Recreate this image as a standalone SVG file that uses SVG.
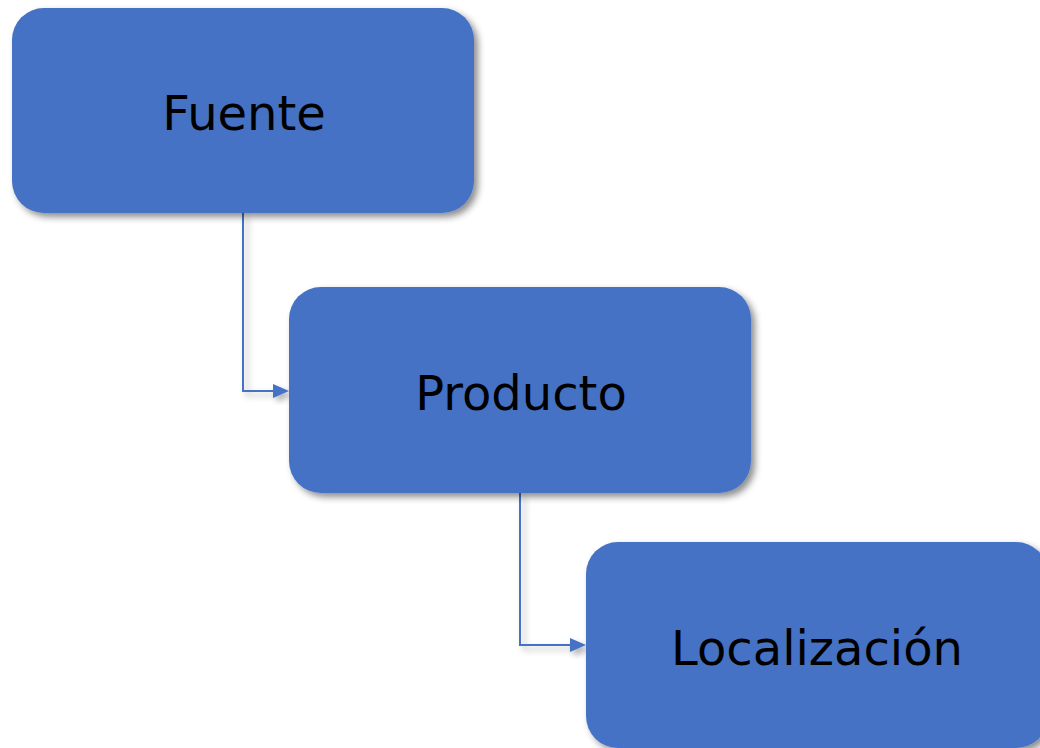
<svg xmlns="http://www.w3.org/2000/svg" width="1040" height="748" viewBox="0 0 1040 748">
<style>
.box{fill:#4472C4;filter:url(#sh)}
.lbl{font-family:"DejaVu Sans",Verdana,sans-serif;font-size:48px;fill:#000;text-anchor:middle}
.con{fill:none;stroke:#4472C4;stroke-width:2;filter:url(#sh2)}
.head{fill:#4472C4;filter:url(#sh2)}
</style>
<defs>
<filter id="sh" x="-10%" y="-10%" width="130%" height="130%">
<feDropShadow dx="4" dy="4" stdDeviation="3.5" flood-color="#000" flood-opacity="0.45"/>
</filter>
<filter id="sh2" x="-50%" y="-50%" width="200%" height="200%">
<feDropShadow dx="4" dy="4" stdDeviation="3" flood-color="#000" flood-opacity="0.3"/>
</filter>
</defs>
<rect width="1040" height="748" fill="#fff"/>
<g id="connectors">
<path class="con" d="M243,213 V391 H276"/>
<path class="head" d="M273,384 L289,391 L273,398 z"/>
<path class="con" d="M520,493 V645 H573"/>
<path class="head" d="M570,638 L586,645 L570,652 z"/>
</g>
<g id="fuente">
<rect class="box" x="12" y="8" width="462" height="205" rx="32"/>
<text class="lbl" x="244" y="130">Fuente</text>
</g>
<g id="producto">
<rect class="box" x="289" y="287" width="462" height="206" rx="32"/>
<text class="lbl" x="521" y="410">Producto</text>
</g>
<g id="localizacion">
<rect class="box" x="586" y="542" width="462" height="206" rx="32"/>
<text class="lbl" x="817" y="665">Localización</text>
</g>
</svg>
